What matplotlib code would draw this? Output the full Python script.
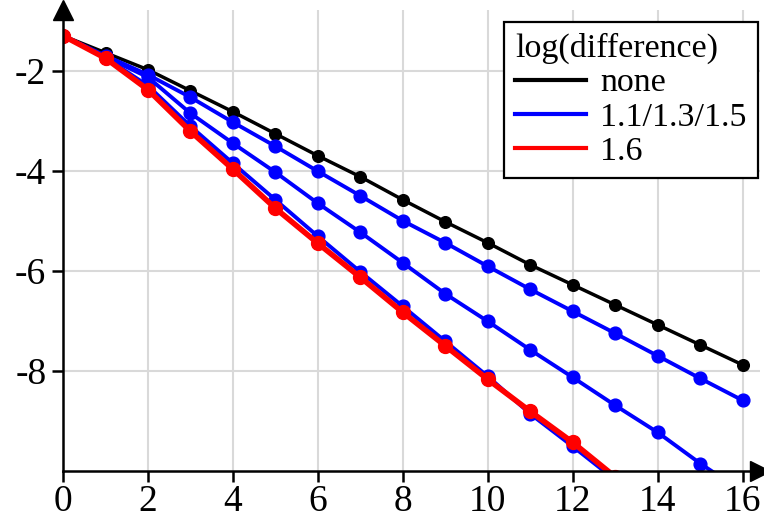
import matplotlib
matplotlib.use("Agg")
import matplotlib.pyplot as plt
from matplotlib.lines import Line2D

plt.rcParams['font.family'] = ['Liberation Serif', 'DejaVu Serif']
plt.rcParams['axes.unicode_minus'] = False

# iteration index
steps = list(range(17))

# log(difference) per iteration
none_vals = [-1.3, -1.64, -1.98, -2.40, -2.82, -3.26, -3.70, -4.12, -4.58,
             -5.02, -5.44, -5.88, -6.28, -6.68, -7.08, -7.48, -7.88]
blue_a = [-1.3, -1.70, -2.08, -2.53, -3.03, -3.51, -4.01, -4.50, -5.00,
          -5.44, -5.91, -6.37, -6.81, -7.25, -7.70, -8.15, -8.59]
blue_b = [-1.3, -1.72, -2.13, -2.85, -3.45, -4.03, -4.65, -5.23, -5.84,
          -6.46, -7.01, -7.58, -8.13, -8.69, -9.23, -9.85, -10.42]
blue_c = [-1.3, -1.74, -2.30, -3.11, -3.85, -4.58, -5.31, -6.02, -6.71,
          -7.41, -8.11, -8.86, -9.51, -10.18]
red_vals = [-1.3, -1.75, -2.38, -3.21, -3.97, -4.75, -5.45, -6.13, -6.83,
            -7.50, -8.17, -8.81, -9.43, -10.12]

legend_labels = ["none", "1.1/1.3/1.5", "1.6"]
xticks = [0, 2, 4, 6, 8, 10, 12, 14, 16]
yticks = [-2, -4, -6, -8]

fig = plt.figure(figsize=(7.64, 5.23), dpi=100)
ax = fig.add_axes([0.0825, 0.0994, 0.912, 0.882])

ax.plot(steps, none_vals, color='black', lw=2.5, marker='o', ms=8.4, zorder=3)
for vals in (blue_a, blue_b, blue_c):
    ax.plot(steps[:len(vals)], vals, color='#0000ff', lw=2.8, marker='o', ms=9.2, zorder=4)
ax.plot(steps[:len(red_vals)], red_vals, color='#ff0000', lw=4, marker='o', ms=10, zorder=5)

ax.set_xlim(0, 16.4)
ax.set_ylim(-10, -0.78)
ax.set_xticks(xticks)
ax.set_yticks(yticks)
ax.grid(True, color='#d9d9d9', lw=1.5, zorder=0)
ax.set_axisbelow(True)

for side in ('top', 'right'):
    ax.spines[side].set_visible(False)
for side in ('left', 'bottom'):
    ax.spines[side].set_linewidth(1.8)
    ax.spines[side].set_zorder(6)
ax.tick_params(direction='out', length=8, width=1.8, labelsize=27)
ax.tick_params(axis='x', pad=2)
ax.tick_params(axis='y', pad=4)

# arrow heads on the axes
ax.plot(1, 0, '>k', ms=14, transform=ax.transAxes, clip_on=False, zorder=7)
ax.plot(0, 1, '^k', ms=14, transform=ax.transAxes, clip_on=False, zorder=7)

handles = [Line2D([], [], color=c, lw=3) for c in ('black', '#0000ff', '#ff0000')]
leg = ax.legend(handles, legend_labels, title="log(difference)", loc='upper right',
                bbox_to_anchor=(0.997, 0.974), fontsize=24.5, title_fontsize=24.5,
                frameon=True, fancybox=False, edgecolor='black', framealpha=1,
                handlelength=2.1, handletextpad=0.4, labelspacing=0.1,
                borderpad=0.33, borderaxespad=0, alignment='left')
leg.get_frame().set_linewidth(1.6)
leg.set_zorder(8)

fig.savefig("out.png", dpi=100)
